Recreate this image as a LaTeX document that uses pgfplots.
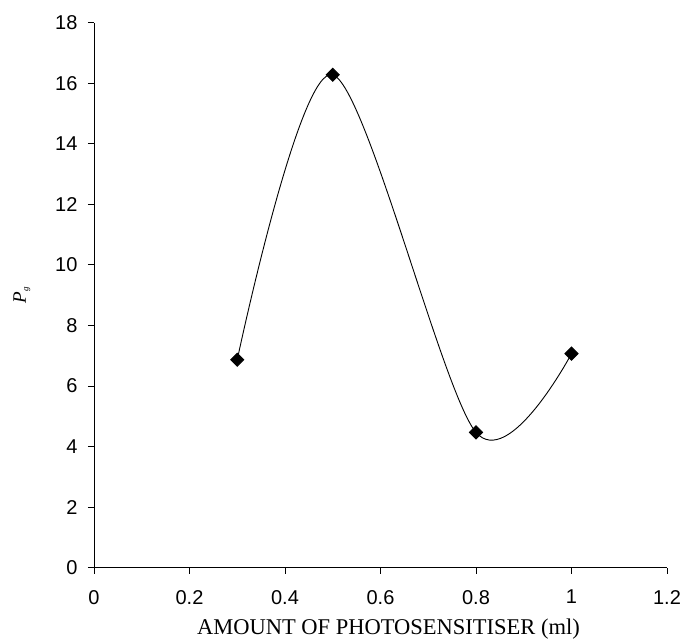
\documentclass[border=0pt]{standalone}
\usepackage{fontspec}
\setmainfont{Liberation Serif}
\newfontfamily\arial{Liberation Sans}
\usepackage{pgfplots}
\pgfplotsset{compat=1.18}
\begin{document}
\begin{tikzpicture}[x=1pt,y=1pt]
\path[use as bounding box] (-94,-76) rectangle (592,567.7);
\begin{axis}[
  at={(0,0)}, anchor=south west,
  scale only axis,
  width=573pt, height=545pt,
  xmin=0, xmax=1.2, ymin=0, ymax=18,
  axis x line*=bottom, axis y line*=left,
  axis line style={black, line width=0.9pt, -},
  xtick={0,0.2,0.4,0.6,0.8,1,1.2},
  ytick={0,2,4,6,8,10,12,14,16,18},
  tick align=outside,
  major tick length=6pt,
  tick style={black, line width=0.9pt},
  /pgf/number format/assume math mode=true,
  /pgf/number format/fixed,
  ticklabel style={font=\arial\fontsize{20}{24}\selectfont},
  xticklabel style={yshift=-13pt},
  yticklabel style={xshift=-7pt},
  xlabel={\fontsize{22.5}{25}\selectfont AMOUNT OF PHOTOSENSITISER (ml)},
  xlabel style={yshift=-8pt, xshift=8pt},
  ylabel={\fontsize{19}{22}\selectfont\itshape P\textsubscript{\fontsize{9}{10}\selectfont g}},
  ylabel style={yshift=18pt},
  clip=false,
]
\addplot[black, line width=0.9pt, smooth, tension=0.5,
  mark=square*, mark size=4.6pt, mark options={rotate=45, fill=black, solid}]
  coordinates {(0.3,6.87) (0.5,16.28) (0.8,4.47) (1.0,7.07)};
\end{axis}
\end{tikzpicture}
\end{document}
